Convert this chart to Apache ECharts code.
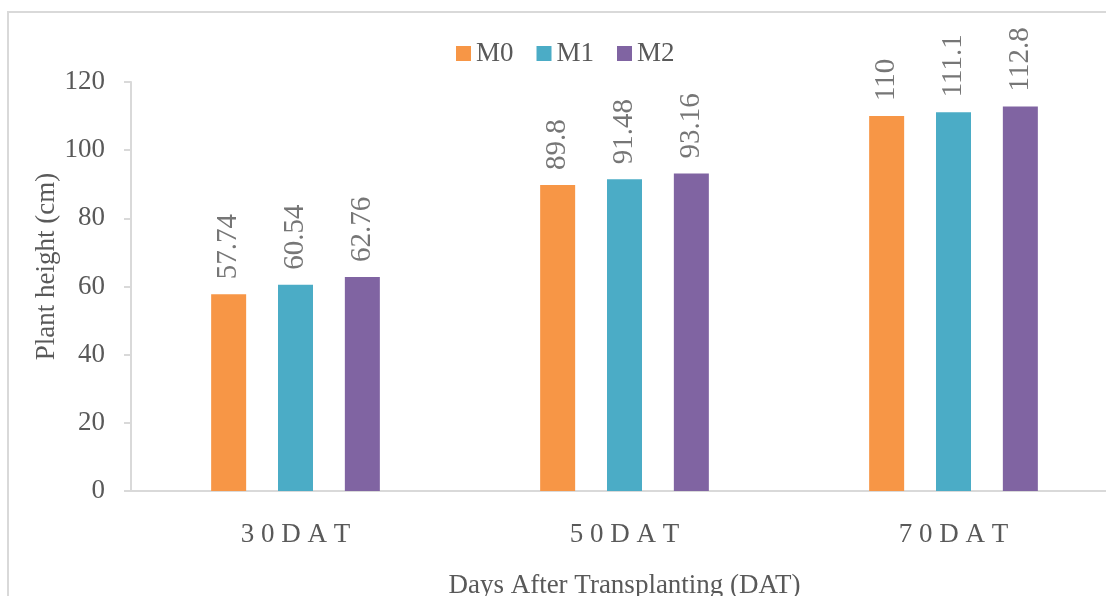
<!DOCTYPE html>
<html>
<head>
<meta charset="utf-8">
<style>
  html, body { margin: 0; padding: 0; background: #ffffff; }
  #chart { width: 1106px; height: 596px; }
</style>
<script src="https://cdn.jsdelivr.net/npm/echarts@6/dist/echarts.min.js"></script>
</head>
<body>
<div id="chart"></div>
<script>
// Sampling stages (days after transplanting)
const categories = ['30 DAT', '50 DAT', '70 DAT'];

// Plant height (cm) per treatment
const seriesNames = ['M0', 'M1', 'M2'];
const m0 = [57.74, 89.8, 110];
const m1 = [60.54, 91.48, 111.1];
const m2 = [62.76, 93.16, 112.8];

// Y axis ticks
const yMin = 0;
const yMax = 120;
const yStep = 20;

const colors = ['#F79646', '#4BACC6', '#8064A2'];
const FONT = '"Liberation Serif", "Times New Roman", serif';

// Spread the characters of a category name the way the axis prints them
function spaced(v) {
  return v.split(' ').map(w => w.split('').join(' ')).join(' ');
}

const chart = echarts.init(document.getElementById('chart'), null, { renderer: 'canvas' });

function barSeries(name, values, color) {
  return {
    name: name,
    type: 'bar',
    data: values,
    barWidth: 35,
    barGap: '91%',
    itemStyle: { color: color },
    label: {
      show: true,
      position: 'top',
      rotate: 90,
      align: 'left',
      verticalAlign: 'middle',
      distance: 15,
      color: '#767676',
      fontFamily: FONT,
      fontSize: 29,
      formatter: p => String(p.value)
    }
  };
}

chart.setOption({
  animation: false,
  backgroundColor: '#ffffff',
  textStyle: { fontFamily: FONT },
  graphic: [{
    type: 'rect',
    shape: { x: 8, y: 12, width: 1200, height: 700 },
    style: { fill: 'none', stroke: '#d9d9d9', lineWidth: 2 },
    silent: true,
    z: -10
  }],
  legend: {
    data: seriesNames,
    left: 456,
    top: 40,
    padding: 0,
    itemWidth: 15,
    itemHeight: 15,
    itemGap: 23,
    icon: 'rect',
    textStyle: {
      color: '#595959',
      fontFamily: FONT,
      fontSize: 27
    }
  },
  grid: {
    left: 131,
    top: 82,
    width: 987,
    bottom: 105,
    containLabel: false,
    outerBoundsMode: 'none'
  },
  xAxis: {
    type: 'category',
    data: categories,
    name: 'Days After Transplanting (DAT)',
    nameLocation: 'middle',
    nameGap: 81,
    nameMoveOverlap: false,
    nameTextStyle: { color: '#595959', fontFamily: FONT, fontSize: 27 },
    axisLine: { show: true, lineStyle: { color: '#d9d9d9', width: 2 } },
    axisTick: { show: false },
    axisLabel: {
      margin: 30,
      color: '#595959',
      fontFamily: FONT,
      fontSize: 27,
      formatter: spaced
    },
    splitLine: { show: false }
  },
  yAxis: {
    type: 'value',
    min: yMin,
    max: yMax,
    interval: yStep,
    name: 'Plant height (cm)',
    nameLocation: 'middle',
    nameGap: 71,
    nameRotate: 90,
    nameMoveOverlap: false,
    nameTextStyle: {
      color: '#595959',
      fontFamily: FONT,
      fontSize: 27,
      padding: [0, 0, 0, 40]
    },
    axisLine: { show: true, lineStyle: { color: '#d9d9d9', width: 2 } },
    axisTick: { show: true, inside: false, length: 7, lineStyle: { color: '#d9d9d9', width: 2 } },
    axisLabel: {
      margin: 26,
      color: '#595959',
      fontFamily: FONT,
      fontSize: 27
    },
    splitLine: { show: false }
  },
  series: [
    barSeries(seriesNames[0], m0, colors[0]),
    barSeries(seriesNames[1], m1, colors[1]),
    barSeries(seriesNames[2], m2, colors[2])
  ]
});
</script>
</body>
</html>
